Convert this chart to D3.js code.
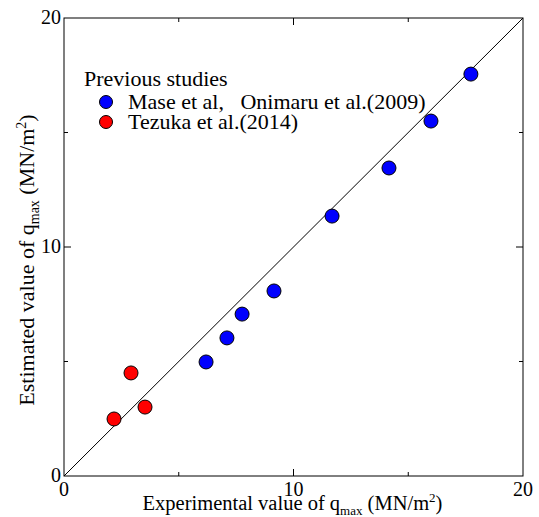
<!DOCTYPE html>
<html>
<head>
<meta charset="utf-8">
<script src="https://cdn.jsdelivr.net/npm/d3@7"></script>
<style>
    body { margin: 0; background: #fff; }
</style>
</head>
<body>
<div id="chart"></div>
<script>
// Mase et al, Onimaru et al.(2009)
const maseX = [6.19, 7.10, 7.76, 9.15, 11.68, 14.16, 15.99, 17.73];
const maseY = [4.98, 6.03, 7.07, 8.08, 11.35, 13.45, 15.50, 17.55];
// Tezuka et al.(2014)
const tezukaX = [2.18, 2.92, 3.53];
const tezukaY = [2.49, 4.50, 3.01];

const majorTicks = [0, 10, 20];
const minorTicks = [5, 15];

const FONT = "'Liberation Serif', 'Times New Roman', Times, serif";

const W = 539, H = 517;
const margin = { left: 64, top: 18, right: 16, bottom: 41 };
const w = W - margin.left - margin.right;
const h = H - margin.top - margin.bottom;

const svg = d3.select("#chart").append("svg")
    .attr("width", W)
    .attr("height", H)
    .attr("font-family", FONT);

const g = svg.append("g")
    .attr("transform", `translate(${margin.left},${margin.top})`);

const x = d3.scaleLinear().domain([0, 20]).range([0, w]);
const y = d3.scaleLinear().domain([0, 20]).range([h, 0]);

// frame
g.append("rect")
    .attr("width", w)
    .attr("height", h)
    .attr("fill", "none")
    .attr("stroke", "#000")
    .attr("stroke-width", 1);

// inward ticks on all four sides
function ticks(vals, len) {
    vals.forEach(v => {
        g.append("line").attr("x1", x(v)).attr("x2", x(v)).attr("y1", h).attr("y2", h - len);
        g.append("line").attr("x1", x(v)).attr("x2", x(v)).attr("y1", 0).attr("y2", len);
        g.append("line").attr("y1", y(v)).attr("y2", y(v)).attr("x1", 0).attr("x2", len);
        g.append("line").attr("y1", y(v)).attr("y2", y(v)).attr("x1", w).attr("x2", w - len);
    });
}
ticks([10], 7);
ticks(minorTicks, 4);
g.selectAll("line").attr("stroke", "#000").attr("stroke-width", 1);

// tick labels
g.selectAll(".xl").data(majorTicks).enter().append("text")
    .attr("x", d => x(d))
    .attr("y", h + 20)
    .attr("text-anchor", "middle")
    .style("font-family", FONT)
    .style("font-size", "20px")
    .text(d => d);

g.selectAll(".yl").data(majorTicks).enter().append("text")
    .attr("x", -3)
    .attr("y", d => y(d) + 6)
    .attr("text-anchor", "end")
    .style("font-family", FONT)
    .style("font-size", "20px")
    .text(d => d);

// 1:1 line
g.append("line")
    .attr("x1", x(0)).attr("y1", y(0))
    .attr("x2", x(20)).attr("y2", y(20))
    .attr("stroke", "#000")
    .attr("stroke-width", 1);

// points
const mase = maseX.map((v, i) => ({ x: v, y: maseY[i] }));
const tezuka = tezukaX.map((v, i) => ({ x: v, y: tezukaY[i] }));

g.selectAll(".mase").data(mase).enter().append("circle")
    .attr("cx", d => x(d.x))
    .attr("cy", d => y(d.y))
    .attr("r", 7)
    .attr("fill", "#0000ff")
    .attr("stroke", "#000")
    .attr("stroke-width", 1);

g.selectAll(".tezuka").data(tezuka).enter().append("circle")
    .attr("cx", d => x(d.x))
    .attr("cy", d => y(d.y))
    .attr("r", 7)
    .attr("fill", "#ff0000")
    .attr("stroke", "#000")
    .attr("stroke-width", 1);

// axis titles
function title(sel, main, size, sub) {
    sel.style("font-family", FONT).style("font-size", size + "px");
    sel.append("tspan").text(main);
    sel.append("tspan").attr("dy", 5).style("font-size", sub + "px").text("max");
    sel.append("tspan").attr("dy", -5).text(" (MN/m");
    sel.append("tspan").attr("dy", -8).style("font-size", sub + "px").text("2");
    sel.append("tspan").attr("dy", 8).text(")");
}

title(svg.append("text")
    .attr("x", margin.left + w / 2 - 1)
    .attr("y", 510)
    .attr("text-anchor", "middle"), "Experimental value of q", 20.5, 13);

title(svg.append("text")
    .attr("transform", `translate(34,260) rotate(-90)`)
    .attr("text-anchor", "middle"), "Estimated value of q", 22, 14);

// legend
const legendData = [
    { label: "Mase et al,\u00a0\u00a0\u00a0Onimaru et al.(2009)", color: "#0000ff" },
    { label: "Tezuka et al.(2014)", color: "#ff0000" }
];

const legend = svg.append("g")
    .attr("transform", "translate(84,86)");

legend.append("text")
    .style("font-family", FONT)
    .style("font-size", "22px")
    .text("Previous studies");

const items = legend.selectAll(".legend-item")
    .data(legendData)
    .enter()
    .append("g")
    .attr("transform", (d, i) => `translate(0,${16 + i * 20})`);

items.append("circle")
    .attr("cx", 22)
    .attr("cy", 0)
    .attr("r", 6.5)
    .attr("fill", d => d.color)
    .attr("stroke", "#000");

items.append("text")
    .attr("x", 44)
    .attr("y", 7)
    .style("font-family", FONT)
    .style("font-size", "22px")
    .text(d => d.label);
</script>
</body>
</html>
